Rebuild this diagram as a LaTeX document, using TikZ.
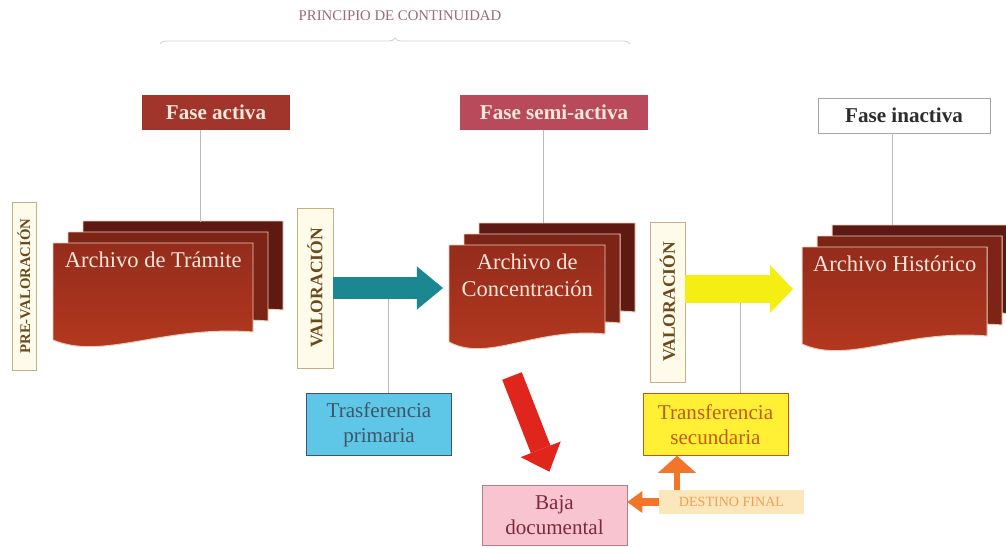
\documentclass[tikz,border=0pt]{standalone}
\usepackage{fontspec}
\setmainfont{Liberation Serif}
\usepackage{tikz}
\usetikzlibrary{arrows.meta,positioning,decorations.pathreplacing}
\definecolor{mBrick}{HTML}{A1342B}
\definecolor{mRose}{HTML}{B94A5C}
\definecolor{mCream}{HTML}{F7E8DC}
\definecolor{mSheetBack}{HTML}{5E1A12}
\definecolor{mSheetMid}{HTML}{7C2416}
\definecolor{mSheetTop}{HTML}{942C1C}
\definecolor{mSheetBot}{HTML}{B8391F}
\definecolor{mSheetLine}{HTML}{E9CDB8}
\definecolor{mValFill}{HTML}{FFFBEA}
\definecolor{mValLine}{HTML}{C9AE84}
\definecolor{mValText}{HTML}{6B4A1C}
\definecolor{mTeal}{HTML}{1B8790}
\definecolor{mYellow}{HTML}{F4EE12}
\definecolor{mRed}{HTML}{E0261C}
\definecolor{mOrange}{HTML}{F2762A}
\definecolor{mSky}{HTML}{5EC6E6}
\definecolor{mSlate}{HTML}{3E5668}
\definecolor{mLemon}{HTML}{FFF035}
\definecolor{mAmber}{HTML}{C45A06}
\definecolor{mPink}{HTML}{F7C4D0}
\definecolor{mWine}{HTML}{7E2A38}
\definecolor{mGlow}{HTML}{FCE6BC}
\definecolor{mGlowText}{HTML}{F0A050}
\definecolor{mTitle}{HTML}{9A6C74}

% outline of one sheet: left, top, width (px)
\newcommand{\sheetpath}[3]{(#1,#2) -- ({#1+#3},#2) -- ({#1+#3},{#2+89})
  .. controls ({#1+0.55*#3},{#2+82}) and ({#1+0.25*#3},{#2+118}) .. (#1,{#2+97}) -- cycle}

% stack of three sheets: name, left, top, width, label
\newcommand{\sheetstack}[5]{%
  \foreach \k/\tone in {2/mSheetBack,1/mSheetMid}{
    \filldraw[sheet, fill=\tone, shift={({15*\k},{-11*\k})}] \sheetpath{#2}{#3}{#4};
  }
  \draw[sheet, top color=mSheetTop, bottom color=mSheetBot] \sheetpath{#2}{#3}{#4};
  \node[sheetbox, minimum width={#4*0.025cm}, anchor=north west] (#1) at (#2,#3) {};
  \node[sheettext, below=0.22cm of #1.north] (#1text) {#5};
}

\begin{document}
\begin{tikzpicture}[x=0.025cm, y=-0.025cm,
        fase/.style={minimum height=0.875cm, inner sep=1pt,
                     font=\fontsize{15}{18}\selectfont\bfseries},
        sheet/.style={draw=mSheetLine, line width=0.7pt},
        sheetbox/.style={minimum height=2.225cm, inner sep=0pt},
        sheettext/.style={inner sep=0pt, align=center, text=mCream,
                          font=\fontsize{16}{19}\selectfont},
        valbox/.style={draw=mValLine, fill=mValFill, rotate=90, text=mValText,
                       inner sep=1pt, font=\bfseries},
        infobox/.style={draw, minimum width=3.625cm, minimum height=1.55cm,
                        align=center, font=\fontsize{15}{18}\selectfont},
        link/.style={draw=gray!55, line width=0.6pt},
        tealarrow/.style={draw=mTeal, line width=0.55cm,
                          -{Triangle[length=0.65cm, width=1.075cm, line width=0pt]}},
        yellowarrow/.style={draw=mYellow, line width=0.7cm,
                            -{Triangle[length=0.575cm, width=1.2cm, line width=0pt]}},
        redarrow/.style={draw=mRed, line width=0.525cm,
                         -{Triangle[length=0.6cm, width=1.075cm, line width=0pt]}},
        orangeleft/.style={draw=mOrange, line width=0.2cm,
                           -{Triangle[length=0.375cm, width=0.55cm, line width=0pt]}},
        orangeup/.style={draw=mOrange, line width=0.15cm,
                         -{Triangle[length=0.425cm, width=0.95cm, line width=0pt]}},
    ]
    \path[use as bounding box, fill=white] (0,0) rectangle (1006,547);

    % title
    \node[text=mTitle, font=\fontsize{10.5}{12}\selectfont] (title) at (400,16) {PRINCIPIO DE CONTINUIDAD};
    \draw[gray!35, line width=0.6pt, decorate, decoration={brace, amplitude=0.15cm}] (160,44) -- (630,44);

    % phases
    \node[fase, fill=mBrick, text=mCream, minimum width=3.7cm] (activa) at (216,112.5) {Fase activa};
    \node[fase, fill=mRose, text=mCream, minimum width=4.7cm] (semiact) at (554,112.5) {Fase semi-activa};
    \node[fase, draw=gray!70, fill=white, text=gray!35!black, minimum width=4.3cm] (inact) at (904,115.5) {Fase inactiva};

    % archives
    \sheetstack{tram}{53}{243}{200}{Archivo de Trámite}
    \sheetstack{conc}{449}{245}{156}{Archivo de\\Concentración}
    \sheetstack{hist}{802}{247}{185}{Archivo Histórico}

    % appraisal
    \node[valbox, minimum width=4.2cm, minimum height=0.6cm,
          font=\fontsize{10.5}{12}\selectfont\bfseries] (preval) at (24,286) {PRE-VALORACIÓN};
    \node[valbox, minimum width=4cm, minimum height=0.9cm,
          font=\fontsize{12.5}{14}\selectfont\bfseries] (valA) at (315,288) {VALORACIÓN};
    \node[valbox, minimum width=4cm, minimum height=0.875cm,
          font=\fontsize{12.5}{14}\selectfont\bfseries] (valB) at (667.5,302) {VALORACIÓN};

    % transfers and disposal
    \node[infobox, draw=mSlate, fill=mSky, text=mSlate] (tprim) at (379,424.5) {Trasferencia\\primaria};
    \node[infobox, draw=mAmber, fill=mLemon, text=mAmber] (tsec) at (715.5,424.5) {Transferencia\\secundaria};
    \node[infobox, draw=mWine!60, fill=mPink, text=mWine, minimum height=1.5cm] (baja) at (554.5,515) {Baja\\documental};
    \node[fill=mGlow, text=mGlowText, minimum width=3.6cm, minimum height=0.6cm,
          font=\fontsize{10}{12}\selectfont] (destino) at (731.5,502) {DESTINO FINAL};

    \coordinate (tramtop) at (200,222);
    \coordinate (conctop) at (543,223);
    \coordinate (histtop) at (892,225);
    \coordinate (tealfoot) at (388,298);
    \coordinate (yellowfoot) at (740,302);
    \coordinate (bajatail) at (512,376);
    \coordinate (upfoot) at (677,490);

    \draw[link] (activa.south -| tramtop) -- (tramtop);
    \draw[link] (semiact.south -| conctop) -- (conctop);
    \draw[link] (inact.south -| histtop) -- (histtop);
    \draw[link] (tealfoot) -- (tealfoot |- tprim.north);
    \draw[link] (yellowfoot) -- (yellowfoot |- tsec.north);

    \draw[tealarrow, shorten >=0.15cm] (valA.south) -- (valA.south -| conc.west);
    \draw[yellowarrow, shorten >=0.225cm] ([yshift=0.325cm]valB.south) -- ([yshift=0.325cm]valB.south -| hist.west);
    \draw[redarrow, shorten >=0.35cm] (bajatail) -- (baja.north);
    \draw[orangeleft] (destino.west) -- (destino.west -| baja.east);
    \draw[orangeup] (upfoot) -- (upfoot |- tsec.south);
\end{tikzpicture}
\end{document}
